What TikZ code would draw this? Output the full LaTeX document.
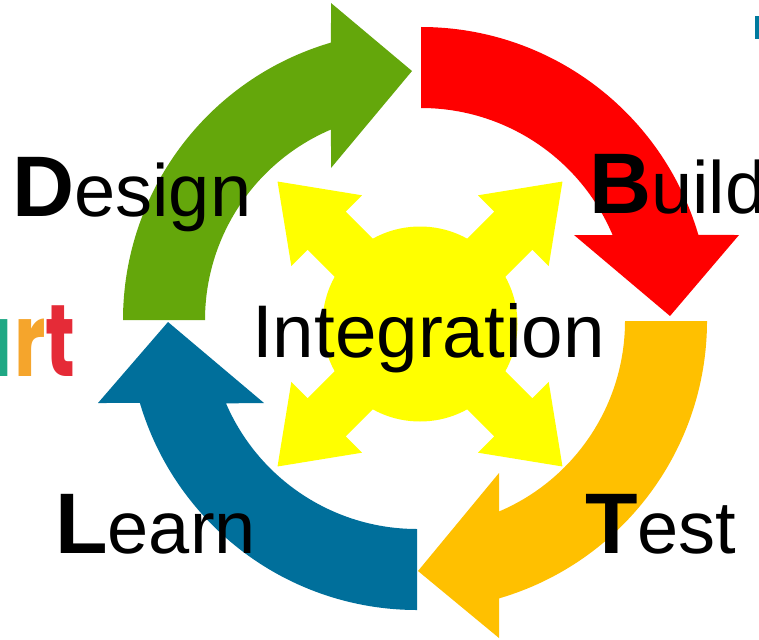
\documentclass[tikz,border=0pt]{standalone}
\usepackage{fontspec}
\setmainfont{Liberation Sans}
\newfontfamily\logofont{Poppins}
\definecolor{ringgreen}{HTML}{64A70B}
\definecolor{ringblue}{HTML}{006F9B}
\definecolor{ringorange}{HTML}{FFC000}
\definecolor{ringred}{HTML}{FF0000}
\definecolor{hubyellow}{HTML}{FFFF00}
\definecolor{logoteal}{HTML}{1FA884}
\definecolor{logoorange}{HTML}{F5A52C}
\definecolor{logored}{HTML}{E52B37}
\definecolor{logoblue}{HTML}{007A9E}
\tikzset{
  ringtext/.style={inner sep=0pt,anchor=base west,text=black,font=\fontsize{74}{74}\selectfont},
  logoletter/.style={inner sep=0pt,anchor=base east,xscale=0.72,transform shape,font=\fontsize{102}{102}\selectfont\logofont\bfseries}
}
\newcommand{\bigi}[1]{{\fontsize{86}{86}\selectfont\bfseries #1}}
\begin{document}
\begin{tikzpicture}[x=1pt,y=-1pt]
\useasboundingbox (0,0) rectangle (759,639);
\begin{scope}
\clip (0,0) rectangle (759,639);
% logo fragment
\node[logoletter,text=logoteal] (logoa) at (13,376) {a};
\node[logoletter,text=logoorange] (logor) at (46,376) {r};
\node[logoletter,text=logored] (logot) at (75,376) {t};
\fill[logoblue] (755,16) rectangle (759,39);
% red
\fill[ringred] (421,27) arc[start angle=-90,end angle=-16.28,radius=289] -- (739,235) -- (670,316) -- (574,235)
  -- ([shift={(421,316)}]-22.9:208) arc[start angle=-22.9,end angle=-90,radius=208] -- cycle;
% orange
\fill[ringorange] (707,321) arc[start angle=0,end angle=73.72,radius=289] -- (499,638) -- (418,571) -- (499,473)
  -- ([shift={(418,321)}]66.96:207) arc[start angle=66.96,end angle=0,radius=207] -- cycle;
% blue
\fill[ringblue] (417,610) arc[start angle=90,end angle=163.52,radius=289] -- (98,403) -- (168,322) -- (264,403)
  -- ([shift={(417,321)}]156.67:208) arc[start angle=156.67,end angle=90,radius=208] -- cycle;
% green
\fill[ringgreen] (123,320) arc[start angle=180,end angle=253.72,radius=289] -- (331,3) -- (412,71) -- (331,168)
  -- ([shift={(412,320)}]246.96:207) arc[start angle=246.96,end angle=180,radius=207] -- cycle;
% yellow
\fill[hubyellow] (420,324) circle[radius=97.5];
\foreach \a in {45,135,225,315}{
  \fill[hubyellow,shift={(420,324)},rotate=\a] (60,-27) -- (132,-27) -- (132,-50) -- (201.5,0) -- (132,50) -- (132,27) -- (60,27) -- cycle;
}
\end{scope}
\node[ringtext] (design) at (12,216) {\bigi{D}esign};
\node[ringtext] (build) at (589,213) {\bigi{B}uild};
\node[ringtext] (learn) at (55,553) {\bigi{L}earn};
\node[ringtext] (test) at (585,553) {\bigi{T}est};
\node[ringtext,font=\fontsize{74.6}{74.6}\selectfont] (integration) at (252,357) {Integration};
\end{tikzpicture}
\end{document}
